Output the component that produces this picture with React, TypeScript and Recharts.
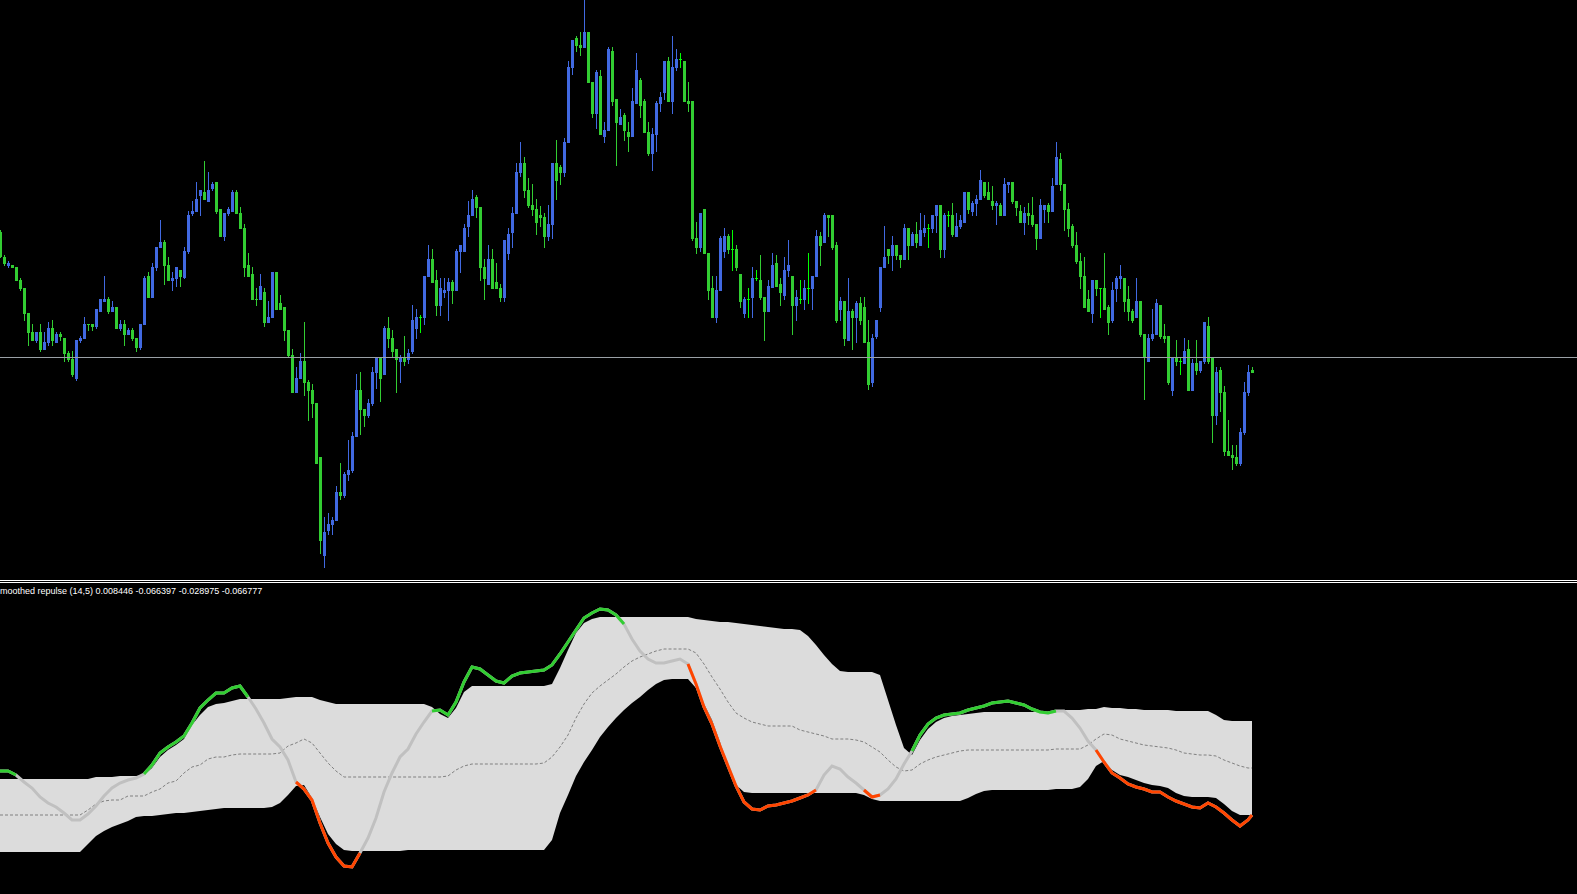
import { Area, Bar, ComposedChart, Line, ReferenceLine, XAxis, YAxis } from 'recharts'

// candle prices, one per bar (bar index = position in the array)
const opens = [
  768, 743, 734, 735, 733, 720, 712, 687, 668, 659,
  668, 650, 657, 672, 657, 666, 662, 647, 641, 621,
  659, 661, 676, 676, 673, 688, 698, 701, 688, 693,
  671, 676, 665, 670, 662, 652, 675, 724, 702, 732,
  752, 758, 735, 719, 721, 730, 722, 748, 786, 788,
  804, 808, 798, 811, 818, 791, 763, 786, 788, 808,
  787, 772, 735, 726, 701, 700, 708, 677, 682, 728,
  697, 693, 670, 645, 607, 621, 639, 618, 610, 597,
  543, 444, 469, 475, 479, 508, 504, 525, 529, 563,
  610, 591, 584, 596, 627, 643, 625, 672, 662, 651,
  638, 643, 640, 648, 671, 683, 682, 723, 741, 720,
  694, 707, 709, 718, 709, 748, 748, 773, 784, 803,
  793, 733, 715, 741, 718, 712, 702, 746, 767, 786,
  827, 837, 810, 795, 791, 785, 783, 763, 775, 837,
  833, 827, 857, 932, 962, 955, 952, 968, 918, 886,
  924, 863, 869, 949, 901, 875, 885, 868, 863, 896,
  920, 899, 868, 846, 865, 896, 907, 939, 898, 932,
  941, 939, 899, 899, 762, 752, 791, 747, 712, 682,
  709, 748, 764, 751, 751, 726, 686, 701, 702, 722,
  720, 703, 688, 712, 737, 716, 704, 729, 724, 694,
  701, 700, 712, 711, 723, 764, 757, 785, 785, 755,
  690, 699, 659, 689, 682, 697, 693, 658, 617, 663,
  692, 732, 751, 744, 755, 745, 740, 772, 754, 766,
  754, 767, 772, 771, 784, 795, 750, 785, 785, 763,
  773, 777, 808, 788, 796, 800, 818, 808, 799, 794,
  795, 784, 815, 818, 799, 789, 777, 787, 785, 776,
  761, 790, 795, 788, 815, 841, 816, 791, 774, 755,
  739, 724, 701, 686, 720, 712, 712, 693, 679, 711,
  721, 722, 701, 689, 682, 699, 666, 638, 661, 665,
  695, 664, 664, 609, 643, 639, 636, 651, 609, 637,
  629, 638, 674, 642, 584, 630, 608, 549, 545, 543,
  536, 567, 607, 630,
]
const highs = [
  770, 745, 739, 735, 733, 722, 712, 687, 676, 668,
  676, 668, 678, 680, 668, 668, 662, 649, 649, 660,
  664, 683, 676, 676, 691, 701, 724, 703, 699, 693,
  680, 680, 672, 672, 662, 676, 724, 728, 737, 753,
  780, 760, 743, 728, 733, 730, 753, 789, 799, 818,
  810, 839, 828, 818, 818, 791, 787, 793, 810, 810,
  793, 776, 747, 733, 712, 726, 712, 699, 728, 728,
  705, 693, 670, 651, 633, 647, 678, 620, 616, 597,
  543, 483, 487, 483, 514, 537, 528, 560, 568, 626,
  628, 591, 601, 633, 643, 643, 674, 683, 670, 651,
  645, 664, 651, 695, 691, 685, 724, 755, 751, 730,
  722, 722, 722, 720, 751, 755, 776, 799, 810, 805,
  793, 741, 755, 751, 737, 716, 760, 772, 793, 837,
  858, 843, 822, 816, 801, 794, 787, 795, 837, 860,
  835, 862, 939, 960, 964, 968, 1000, 968, 918, 930,
  930, 878, 953, 953, 901, 891, 887, 878, 912, 947,
  922, 901, 878, 872, 899, 908, 939, 943, 964, 951,
  947, 939, 918, 899, 778, 787, 791, 747, 724, 724,
  764, 772, 766, 770, 755, 726, 703, 712, 733, 730,
  745, 703, 720, 747, 745, 722, 743, 760, 724, 710,
  720, 720, 747, 724, 770, 768, 787, 785, 785, 758,
  703, 699, 722, 691, 699, 703, 703, 680, 666, 680,
  733, 774, 751, 764, 755, 745, 776, 772, 768, 778,
  787, 785, 776, 785, 795, 795, 787, 789, 797, 787,
  785, 808, 808, 799, 805, 830, 818, 818, 814, 799,
  797, 822, 818, 818, 799, 795, 793, 797, 803, 776,
  801, 795, 797, 822, 858, 847, 816, 797, 776, 768,
  747, 743, 710, 720, 720, 712, 747, 695, 718, 724,
  735, 722, 714, 691, 722, 699, 666, 666, 691, 701,
  695, 676, 664, 643, 660, 642, 662, 660, 641, 660,
  639, 678, 683, 642, 633, 633, 614, 580, 555, 555,
  572, 618, 635, 633,
]
const lows = [
  742, 734, 732, 732, 719, 709, 679, 654, 659, 657,
  648, 650, 654, 654, 657, 659, 638, 638, 623, 619,
  657, 661, 669, 669, 671, 688, 698, 686, 688, 671,
  669, 654, 665, 659, 648, 650, 675, 702, 702, 729,
  752, 715, 719, 709, 713, 713, 721, 746, 784, 788,
  784, 800, 798, 809, 786, 763, 759, 784, 788, 786,
  771, 723, 723, 700, 694, 700, 673, 677, 682, 690,
  690, 659, 643, 607, 607, 621, 604, 579, 582, 536,
  446, 432, 465, 465, 479, 500, 502, 519, 527, 563,
  565, 573, 582, 594, 611, 598, 625, 652, 643, 607,
  617, 634, 636, 646, 661, 667, 675, 723, 717, 684,
  684, 702, 679, 696, 709, 727, 748, 763, 784, 782,
  719, 700, 715, 711, 711, 698, 698, 740, 752, 786,
  823, 802, 792, 784, 765, 773, 752, 759, 761, 800,
  815, 823, 857, 925, 948, 944, 952, 917, 882, 871,
  865, 857, 869, 894, 834, 875, 859, 848, 863, 896,
  882, 867, 844, 829, 848, 888, 900, 898, 886, 929,
  932, 898, 888, 759, 746, 748, 746, 700, 682, 677,
  709, 742, 746, 729, 729, 692, 682, 682, 682, 719,
  700, 659, 688, 712, 713, 694, 700, 723, 665, 679,
  696, 690, 696, 690, 723, 734, 757, 763, 750, 677,
  679, 654, 659, 650, 657, 675, 657, 610, 613, 661,
  688, 732, 736, 729, 740, 732, 740, 740, 754, 752,
  754, 763, 752, 767, 767, 742, 742, 773, 763, 763,
  771, 777, 786, 784, 784, 800, 802, 800, 790, 775,
  784, 784, 807, 796, 784, 777, 765, 775, 773, 750,
  761, 777, 777, 788, 815, 809, 769, 763, 752, 736,
  711, 692, 688, 677, 704, 682, 690, 665, 677, 698,
  711, 688, 679, 677, 682, 663, 600, 638, 659, 665,
  661, 657, 615, 604, 634, 625, 636, 609, 609, 625,
  627, 636, 636, 557, 575, 588, 544, 544, 530, 534,
  534, 565, 604, 627,
]
const closes = [
  743, 736, 737, 732, 719, 711, 686, 667, 659, 668,
  650, 658, 672, 659, 666, 663, 646, 640, 625, 660,
  662, 676, 675, 673, 691, 701, 701, 688, 693, 671,
  676, 665, 670, 661, 652, 676, 722, 702, 733, 753,
  758, 734, 719, 722, 733, 723, 749, 785, 789, 801,
  810, 800, 810, 816, 788, 763, 787, 791, 808, 786,
  771, 732, 723, 700, 700, 714, 677, 683, 728, 690,
  690, 669, 644, 607, 622, 639, 617, 609, 596, 536,
  459, 468, 476, 480, 508, 504, 526, 530, 564, 610,
  590, 584, 597, 628, 643, 621, 672, 661, 648, 640,
  643, 638, 647, 680, 683, 683, 724, 741, 717, 694,
  712, 710, 718, 709, 749, 755, 772, 785, 801, 792,
  732, 721, 741, 711, 711, 702, 760, 766, 787, 828,
  837, 809, 794, 790, 777, 782, 763, 776, 837, 819,
  827, 858, 933, 960, 954, 952, 968, 917, 886, 928,
  865, 870, 951, 898, 877, 883, 869, 863, 899, 930,
  894, 867, 846, 866, 897, 903, 939, 898, 933, 941,
  941, 898, 896, 761, 752, 787, 746, 709, 682, 710,
  762, 764, 750, 751, 732, 698, 701, 701, 722, 722,
  702, 688, 714, 735, 713, 707, 730, 735, 694, 703,
  701, 712, 712, 724, 764, 754, 785, 782, 752, 679,
  699, 661, 689, 682, 697, 679, 657, 615, 662, 680,
  733, 743, 744, 755, 744, 740, 772, 754, 766, 757,
  770, 772, 772, 785, 795, 750, 785, 785, 765, 774,
  780, 808, 790, 797, 801, 820, 804, 800, 794, 797,
  784, 816, 818, 798, 792, 777, 787, 784, 775, 761,
  795, 795, 788, 814, 843, 815, 790, 771, 754, 738,
  723, 692, 688, 720, 711, 712, 690, 677, 710, 722,
  724, 698, 688, 679, 699, 665, 643, 662, 666, 697,
  663, 661, 617, 643, 638, 639, 649, 609, 637, 629,
  639, 678, 638, 584, 628, 607, 548, 544, 542, 536,
  568, 608, 628, 627,
]
const levelLine = 642.5

// indicator, sampled every second bar (+ the last bar)
const indBars = [...Array.from({ length: 157 }, (_, j) => j * 2), 313]
const repulse = [
  -39, -39, -43, -50, -56, -65, -71, -75, -81, -88,
  -88, -82, -74, -64, -56, -51, -48, -46, -42, -33,
  -21, -15, -10, -4, 9, 24, 32, 39, 39, 44,
  46, 35, 23, 9, -7, -15, -28, -50, -57, -68,
  -91, -111, -125, -134, -135, -121, -106, -86, -60, -41,
  -25, -17, -2, 10, 21, 22, 17, 30, 50, 65,
  63, 57, 51, 49, 56, 59, 60, 61, 62, 67,
  78, 90, 102, 114, 119, 123, 122, 117, 108, 93,
  81, 73, 69, 69, 71, 73, 68, 48, 25, 8,
  -14, -34, -54, -70, -77, -78, -74, -73, -71, -69,
  -66, -63, -58, -43, -34, -37, -45, -51, -58, -65,
  -63, -57, -47, -32, -19, -3, 8, 14, 17, 18,
  19, 22, 24, 26, 29, 30, 31, 29, 27, 23,
  20, 19, 21, 21, 14, 4, -9, -18, -30, -41,
  -46, -52, -55, -57, -60, -60, -65, -69, -72, -75,
  -76, -71, -75, -81, -88, -94, -88, -83,
]
const upperBand = [
  -47, -47, -47, -47, -47, -47, -47, -47, -47, -47,
  -47, -47, -45, -45, -45, -44, -44, -44, -43, -36,
  -25, -18, -13, -7, 7, 17, 25, 28, 29, 31,
  33, 33, 33, 33, 33, 33, 34, 35, 35, 35,
  32, 30, 28, 28, 28, 28, 28, 28, 28, 28,
  28, 28, 28, 28, 25, 18, 14, 24, 40, 46,
  46, 46, 46, 46, 46, 46, 46, 46, 46, 48,
  64, 82, 99, 109, 113, 115, 115, 115, 115, 115,
  115, 115, 115, 115, 115, 115, 115, 113, 112, 111,
  110, 110, 109, 108, 107, 106, 105, 104, 103, 103,
  102, 96, 87, 77, 68, 61, 60, 60, 60, 60,
  57, 32, 7, -16, -23, -8, 3, 10, 14, 16,
  17, 18, 19, 20, 20, 20, 20, 20, 20, 20,
  20, 20, 22, 22, 22, 22, 23, 23, 25, 24,
  24, 23, 23, 22, 22, 22, 22, 21, 21, 21,
  21, 21, 17, 12, 11, 11, 11, 11,
]
const lowerBand = [
  -120, -120, -120, -120, -120, -120, -120, -120, -120, -120,
  -120, -112, -104, -99, -95, -92, -89, -85, -84, -84,
  -83, -82, -81, -81, -80, -79, -78, -77, -76, -76,
  -76, -76, -76, -76, -75, -71, -63, -54, -53, -66,
  -85, -102, -112, -118, -119, -119, -119, -119, -119, -119,
  -119, -118, -118, -118, -118, -118, -118, -118, -118, -118,
  -118, -118, -118, -118, -118, -118, -118, -118, -118, -108,
  -81, -63, -44, -30, -18, -5, 5, 14, 22, 29,
  35, 42, 48, 52, 53, 53, 53, 44, 28, 12,
  -10, -34, -53, -60, -61, -61, -61, -61, -61, -61,
  -61, -61, -61, -61, -61, -61, -61, -61, -63, -67,
  -69, -69, -69, -69, -69, -69, -69, -69, -69, -69,
  -69, -66, -62, -59, -58, -58, -58, -58, -58, -58,
  -58, -58, -57, -57, -57, -55, -47, -34, -29, -38,
  -43, -45, -48, -51, -53, -54, -56, -61, -64, -65,
  -65, -65, -66, -72, -79, -83, -83, -83,
]
const midBand = [
  -83, -83, -83, -83, -83, -83, -83, -83, -83, -83,
  -83, -78, -72, -69, -68, -68, -64, -64, -64, -60,
  -57, -51, -49, -41, -35, -33, -27, -25, -25, -23,
  -22, -22, -22, -22, -22, -21, -14, -11, -7, -11,
  -21, -31, -39, -45, -45, -45, -45, -45, -45, -45,
  -45, -45, -45, -45, -45, -45, -44, -38, -34, -32,
  -32, -32, -32, -32, -32, -32, -32, -32, -31, -25,
  -15, -3, 14, 28, 39, 46, 52, 58, 65, 71,
  75, 78, 81, 83, 83, 83, 83, 79, 68, 55,
  43, 30, 19, 14, 10, 8, 6, 6, 6, 6,
  2, 0, -2, -4, -7, -7, -7, -8, -10, -15,
  -20, -28, -35, -39, -38, -32, -28, -25, -23, -21,
  -19, -18, -18, -18, -18, -18, -18, -18, -18, -18,
  -18, -18, -17, -17, -17, -17, -13, -7, -2, -3,
  -7, -9, -11, -13, -14, -15, -16, -18, -21, -22,
  -23, -23, -24, -28, -31, -34, -36, -36,
]
// sample ranges where the line is drawn green (above band) / orange-red (below band)
const upRuns = [[0, 2], [18, 31], [54, 78], [114, 132]]
const downRuns = [[37, 45], [86, 102], [108, 110], [137, 157]]

const label = 'moothed repulse (14,5) 0.008446 -0.066397 -0.028975 -0.066777'

const candles = opens.map((o, i) => ({
  bar: i,
  open: o,
  high: highs[i],
  low: lows[i],
  close: closes[i],
  range: [lows[i], highs[i]],
}))

const inRun = (runs: number[][], j: number) => runs.some(([a, b]) => j >= a && j <= b)

const ind = indBars.map((bar, j) => ({
  bar,
  band: [lowerBand[j], upperBand[j]],
  mid: midBand[j],
  line: repulse[j],
  up: inRun(upRuns, j) ? repulse[j] : null,
  down: inRun(downRuns, j) ? repulse[j] : null,
}))

function Candle(props: any) {
  const { x, y, width, height, payload } = props
  const { open, close, high, low } = payload
  const cx = Math.round(x + width / 2)
  const ppu = high > low ? height / (high - low) : 0
  const at = (v: number) => y + (high - v) * ppu
  const top = Math.round(at(Math.max(open, close)))
  const bot = Math.round(at(Math.min(open, close)))
  const color = close > open ? '#4169e1' : close < open ? '#32cd32' : '#00ff00'
  return (
    <g>
      <rect x={cx} y={Math.round(y)} width={1} height={Math.max(1, Math.round(height))} fill={color} />
      <rect x={cx - 1} y={top} width={3} height={Math.max(1, bot - top)} fill={color} />
    </g>
  )
}

const W = 1577

export default function App() {
  return (
    <div style={{ position: 'absolute', left: 0, top: 0, width: W, height: 894, background: '#000', overflow: 'hidden' }}>
      <div style={{ position: 'absolute', left: 0, top: 0 }}>
        <ComposedChart width={W} height={580} data={candles} margin={{ top: 0, right: 0, bottom: 0, left: 0 }}>
          <XAxis type="number" dataKey="bar" domain={[0, W / 4]} allowDataOverflow hide />
          <YAxis domain={[420, 1000]} allowDataOverflow hide />
          <ReferenceLine y={levelLine} stroke="#9aa0a6" strokeWidth={1} />
          <Bar dataKey="range" barSize={3} shape={(p: any) => <Candle {...p} />} isAnimationActive={false} />
        </ComposedChart>
      </div>
      <div style={{ position: 'absolute', left: 0, top: 580, width: W, height: 1, background: '#fff' }} />
      <div style={{ position: 'absolute', left: 0, top: 582, width: W, height: 1, background: '#fff' }} />
      <div style={{ position: 'absolute', left: 0, top: 583 }}>
        <ComposedChart width={W} height={311} data={ind} margin={{ top: 0, right: 0, bottom: 0, left: 0 }}>
          <XAxis type="number" dataKey="bar" domain={[0, W / 4]} allowDataOverflow hide />
          <YAxis domain={[-162, 149]} allowDataOverflow hide />
          <Area type="linear" dataKey="band" stroke="none" fill="#dcdcdc" fillOpacity={1} isAnimationActive={false} />
          <Line type="linear" dataKey="mid" stroke="#808080" strokeWidth={1} strokeDasharray="3 2" dot={false} isAnimationActive={false} />
          <Line type="linear" dataKey="line" stroke="#c0c0c0" strokeWidth={3} dot={false} isAnimationActive={false} />
          <Line type="linear" dataKey="up" stroke="#32cd32" strokeWidth={3} dot={false} isAnimationActive={false} />
          <Line type="linear" dataKey="down" stroke="#ff4500" strokeWidth={3} dot={false} isAnimationActive={false} />
        </ComposedChart>
      </div>
      <div style={{ position: 'absolute', left: 0, top: 586, color: '#fff', fontFamily: '"Liberation Sans", Arial, sans-serif', fontSize: 9, lineHeight: '10px', whiteSpace: 'nowrap' }}>
        {label}
      </div>
    </div>
  )
}
